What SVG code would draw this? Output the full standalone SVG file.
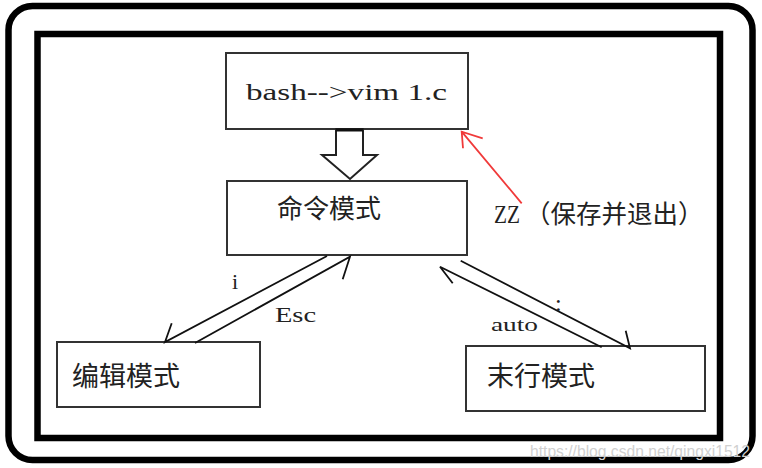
<svg xmlns="http://www.w3.org/2000/svg" width="762" height="468" viewBox="0 0 762 468">
<style>
.frame{fill:none;stroke:#000}
.box{fill:#fff;stroke:#333;stroke-width:2}
.cn{font-family:"Noto Sans CJK SC","Noto Sans",sans-serif;fill:#222}
.lat{font-family:"Liberation Serif","DejaVu Serif",serif;fill:#222}
.conn{fill:none;stroke:#111;stroke-width:1.8;stroke-linejoin:miter}
.red{fill:none;stroke:#f03a3a;stroke-width:1.8}
</style>
<rect width="762" height="468" fill="#fff"/>
<rect class="frame" x="8.5" y="6" width="744" height="454" rx="24" stroke-width="6.5"/>
<rect class="frame" x="37.5" y="34" width="682.5" height="404" stroke-width="6.5"/>
<g id="start">
<rect class="box" x="226" y="53" width="242" height="76"/>
<text class="lat" x="246" y="100" font-size="23" textLength="201" lengthAdjust="spacingAndGlyphs">bash--&gt;vim 1.c</text>
</g>
<g id="cmd">
<rect class="box" x="227" y="181" width="240" height="74"/>
<text class="cn" x="277" y="218" font-size="26">命令模式</text>
</g>
<g id="edit">
<rect class="box" x="57" y="342" width="203" height="65"/>
<text class="cn" x="72" y="386" font-size="27">编辑模式</text>
</g>
<g id="last">
<rect class="box" x="466" y="346" width="239" height="65"/>
<text class="cn" x="487" y="386" font-size="27">末行模式</text>
</g>
<g id="connectors">
<path d="M336,129 L336,155 L322,155 L350,179 L377,155 L363,155 L363,129 Z" fill="#fff" stroke="#222" stroke-width="2"/>
<line x1="336" y1="130" x2="363" y2="130" stroke="#111" stroke-width="3"/>
<path class="conn" d="M327,256 L165,342 L171.7,323.3"/>
<path class="conn" d="M195,343 L350,256.7 L342.7,279.3"/>
<path class="conn" d="M601.7,347.3 L440,266.7 L452.7,283.3"/>
<path class="conn" d="M460.7,260.7 L630,348.3 L625.7,330.7"/>
<path class="red" d="M521.7,203.3 L461.7,131.7 M463,148.3 L461.7,131.7 L482.7,138.3"/>
<text class="lat" x="232" y="289" font-size="22">i</text>
<text class="lat" x="275" y="322" font-size="22" textLength="41" lengthAdjust="spacingAndGlyphs">Esc</text>
<text class="lat" x="491" y="331" font-size="19" textLength="47" lengthAdjust="spacingAndGlyphs">auto</text>
<text class="lat" x="555" y="311" font-size="24">:</text>
<text class="lat" x="494" y="223" font-size="26" textLength="26" lengthAdjust="spacingAndGlyphs">ZZ</text>
<text class="cn" x="525" y="223" font-size="25.5">（保存并退出）</text>
</g>
<text x="530" y="457" font-family="Liberation Sans,Arial,sans-serif" font-size="16" fill="#d0d0d0" textLength="220" lengthAdjust="spacingAndGlyphs">https://blog.csdn.net/qingxi1512</text>
</svg>
